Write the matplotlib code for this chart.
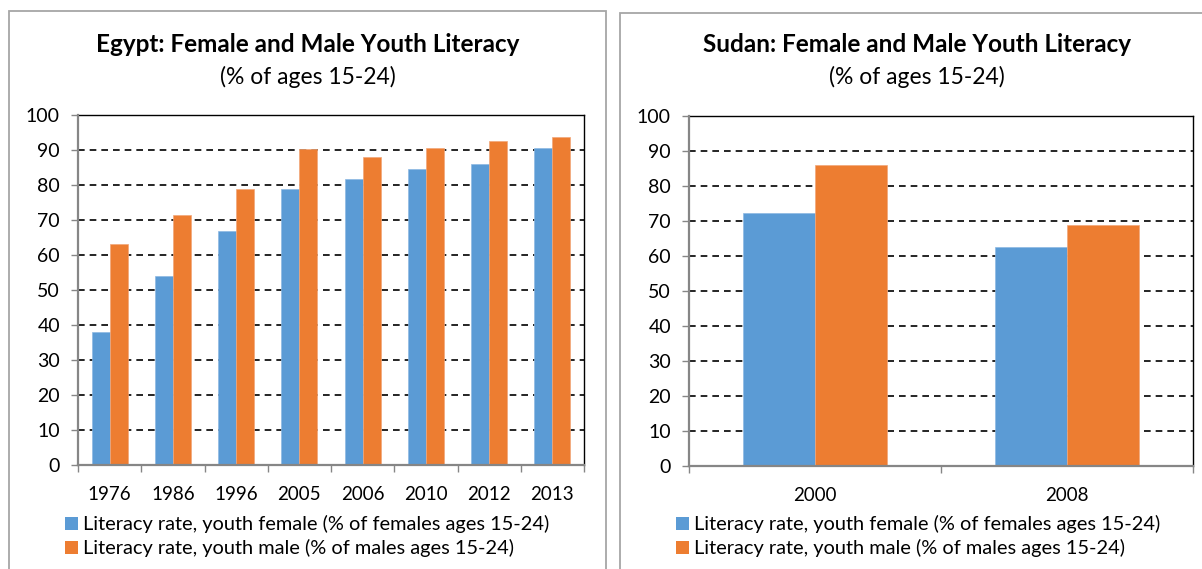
import matplotlib
matplotlib.use("Agg")
import matplotlib.pyplot as plt
import numpy as np
from matplotlib.patches import Rectangle

plt.rcParams['font.family'] = ['Lato', 'DejaVu Sans']

egypt_years = ["1976", "1986", "1996", "2005", "2006", "2010", "2012", "2013"]
egypt_female = [38.1, 54.0, 67.0, 79.0, 81.8, 84.6, 86.0, 90.5]
egypt_male = [63.1, 71.5, 79.0, 90.2, 87.9, 90.7, 92.5, 93.8]

sudan_years = ["2000", "2008"]
sudan_female = [72.4, 62.7]
sudan_male = [85.9, 68.8]

series_labels = ["Literacy rate, youth female (% of females ages 15-24)",
                 "Literacy rate, youth male (% of males ages 15-24)"]
titles = ["Egypt: Female and Male Youth Literacy", "Sudan: Female and Male Youth Literacy"]
subtitle = "(% of ages 15-24)"
yticks = list(range(0, 101, 10))

BLUE = "#5B9BD5"
ORANGE = "#ED7D31"
GRAY = "#868686"

W, H = 1202, 569
fig = plt.figure(figsize=(W / 100, H / 100), dpi=100)
fig.patch.set_facecolor("white")

def px_axes(x0, y0, x1, y1):
    return fig.add_axes([x0 / W, 1 - y1 / H, (x1 - x0) / W, (y1 - y0) / H])

# panel borders
for (x0, y0, x1) in [(9, 11, 606), (620, 13, 1210)]:
    fig.patches.append(Rectangle((x0 / W, -0.05), (x1 - x0) / W, 1 - y0 / H + 0.05,
                                 transform=fig.transFigure, fill=False,
                                 edgecolor="#A6A6A6", linewidth=1.3))

panels = [
    dict(box=(78, 115, 584, 465), cats=egypt_years, f=egypt_female, m=egypt_male,
         title=titles[0], tx=308, leg_x=65),
    dict(box=(689, 116, 1193, 466), cats=sudan_years, f=sudan_female, m=sudan_male,
         title=titles[1], tx=917, leg_x=676),
]

for p in panels:
    ax = px_axes(*p["box"])
    n = len(p["cats"])
    x = np.arange(n)
    bw = 0.286
    ax.bar(x - bw / 2, p["f"], width=bw, color=BLUE, edgecolor="#8DB9E3", linewidth=0.5, zorder=3)
    ax.bar(x + bw / 2, p["m"], width=bw, color=ORANGE, edgecolor="#F2A779", linewidth=0.5, zorder=3)
    ax.set_xlim(-0.5, n - 0.5)
    ax.set_ylim(0, 100)
    ax.set_yticks(yticks)
    ax.set_yticklabels([str(v) for v in yticks], fontsize=14)
    ax.set_xticks(x)
    ax.set_xticklabels(p["cats"], fontsize=13.5)
    ax.tick_params(axis="x", which="major", length=0, pad=15)
    ax.tick_params(axis="y", length=5, width=1, color=GRAY, pad=8)
    # minor ticks at category boundaries
    ax.set_xticks(np.arange(-0.5, n, 1.0), minor=True)
    ax.tick_params(axis="x", which="minor", length=5, width=1, color=GRAY)
    for v in yticks[1:]:
        ax.axhline(v, color="black", linestyle=(0, (4, 3)), linewidth=1.2, zorder=1)
    for s in ["left", "bottom"]:
        ax.spines[s].set_color(GRAY)
        ax.spines[s].set_linewidth(1.6)
        ax.spines[s].set_zorder(4)
    for s in ["top", "right"]:
        ax.spines[s].set_color("black")
        ax.spines[s].set_linewidth(1.0)
    ax.set_axisbelow(False)

    fig.text(p["tx"] / W, 1 - 45 / H, p["title"], ha="center", va="center",
             fontsize=17.5, fontweight="bold")
    fig.text(p["tx"] / W, 1 - 77 / H, subtitle, ha="center", va="center", fontsize=16.5)

    for i, (lab, col) in enumerate(zip(series_labels, [BLUE, ORANGE])):
        yy = 524 + i * 24
        fig.patches.append(Rectangle((p["leg_x"] / W, 1 - (yy + 6) / H), 13 / W, 13 / H,
                                     transform=fig.transFigure, facecolor=col, edgecolor="none"))
        fig.text((p["leg_x"] + 18) / W, 1 - yy / H, lab, ha="left", va="center", fontsize=14.4)

fig.savefig("out.png", dpi=100, facecolor="white")
